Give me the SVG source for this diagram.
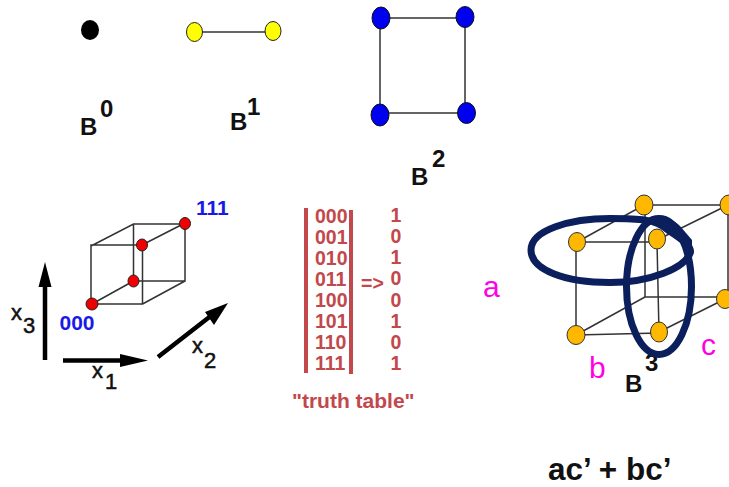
<svg xmlns="http://www.w3.org/2000/svg" width="729" height="487" viewBox="0 0 729 487">
<style>
text{font-family:"Liberation Sans",Arial,sans-serif}
.lb{font-weight:bold;font-size:24px;fill:#111}
.ax{font-size:22px;fill:#111;stroke:#111;stroke-width:.5px}
.ed{stroke:#333;stroke-width:1.5;fill:none}
.ax-line{stroke:#000;stroke-width:4.5;fill:none}
.yl{fill:#ffff00;stroke:#222;stroke-width:1}
.bl{fill:#0000f0;stroke:#111;stroke-width:1}
.rd{fill:#f00000;stroke:#222;stroke-width:1}
.or{fill:#ffb800;stroke:#333;stroke-width:1}
.blue{font-weight:bold;font-size:21px;fill:#1a1ae6}
.tt{font-weight:bold;font-size:19.5px;fill:#c2484c}
.bar{fill:#c2484c}
.mg{font-size:30px;fill:#ff00e6}
.ring{fill:none;stroke:#0a1f5c;stroke-width:7}
</style>
<g id="connectors">
<path class="ed" d="M194 32H273"/>
<path class="ed" d="M381 18H465V113H380V18"/>
<path class="ed" d="M92 304H142.500V245H91V304M91 246L133.500 224H185V281H133.500V224M92 304L133.500 281M142 245L185 223M142.500 304L185 281"/>
<path class="ed" d="M577 242H657L659 333L576 335V242M577 242L644 205H728V299M657 240L728 205M576 335L645 297V205M645 297H725M659 332L725 299"/>
<path class="ax-line" d="M45 360V280M63 360.500H128M158 357L212 315"/>
<path d="M45 262L51.500 287H38.500ZM148 360.500L120 354V367ZM228 303L205 312L214 325Z" fill="#000"/>
</g>
<g id="b0"><ellipse cx="90" cy="30" rx="9" ry="10" fill="#000"/><text class="lb" x="80" y="135">B</text><text class="lb" x="100" y="117">0</text></g>
<g id="b1"><ellipse class="yl" cx="194.500" cy="32" rx="8" ry="9.500"/><ellipse class="yl" cx="273" cy="31" rx="8" ry="9.500"/><text class="lb" x="230" y="130">B</text><text class="lb" x="247" y="115">1</text></g>
<g id="b2"><ellipse class="bl" cx="381" cy="18" rx="9" ry="11"/><ellipse class="bl" cx="465" cy="17" rx="9" ry="10.500"/><ellipse class="bl" cx="380" cy="115" rx="9" ry="11"/><ellipse class="bl" cx="466.500" cy="113" rx="9" ry="10.500"/><text class="lb" x="411" y="185">B</text><text class="lb" x="432" y="167">2</text></g>
<g id="cube"><ellipse class="rd" cx="92" cy="304" rx="6" ry="6"/><ellipse class="rd" cx="133.500" cy="281" rx="5.500" ry="6"/><ellipse class="rd" cx="142" cy="245" rx="5.500" ry="6"/><ellipse class="rd" cx="185" cy="223.500" rx="5.500" ry="6"/>
<text class="blue" x="196" y="215">111</text><text class="blue" x="59.500" y="330">000</text></g>
<g id="axes"><text class="ax" x="11" y="320">x</text><text class="ax" x="23" y="333">3</text><text class="ax" x="92" y="378">x</text><text class="ax" x="105" y="389">1</text><text class="ax" x="192" y="353">x</text><text class="ax" x="204" y="368">2</text></g>
<g id="truth-table">
<rect class="bar" x="304" y="208" width="4" height="165"/><rect class="bar" x="349" y="210" width="4" height="164"/>
<text class="tt" x="315" y="223">000</text><text class="tt" x="315" y="244">001</text><text class="tt" x="315" y="265">010</text><text class="tt" x="315" y="286">011</text><text class="tt" x="315" y="307">100</text><text class="tt" x="315" y="328">101</text><text class="tt" x="315" y="349">110</text><text class="tt" x="315" y="370">111</text>
<g text-anchor="middle"><text class="tt" x="396" y="222">1</text><text class="tt" x="396" y="243">0</text><text class="tt" x="396" y="264">1</text><text class="tt" x="396" y="285">0</text><text class="tt" x="396" y="307">0</text><text class="tt" x="396" y="328">1</text><text class="tt" x="396" y="349">0</text><text class="tt" x="396" y="370">1</text></g>
<text class="tt" x="361" y="290">=&gt;</text>
<text class="tt" x="292" y="408" style="font-size:21px">"truth table"</text>
</g>
<g id="b3">
<ellipse class="or" cx="644" cy="205" rx="9" ry="10"/><ellipse class="or" cx="729" cy="205" rx="9" ry="10"/><ellipse class="or" cx="577" cy="242" rx="8.500" ry="9.500"/><ellipse class="or" cx="657" cy="239" rx="8.500" ry="10"/><ellipse class="or" cx="576" cy="335" rx="9" ry="9.500"/><ellipse class="or" cx="659" cy="332" rx="8.500" ry="10"/><ellipse class="or" cx="725" cy="299" rx="8.500" ry="9.500"/>
<text class="lb" x="625" y="392">B</text><text class="lb" x="645" y="371">3</text>
</g>
<g id="rings">
<path class="ring" d="M531 250C531 230 570 218.500 610 218.500C640 218.500 655 219 668 230C680 238 691 245 690.500 252C686 268 650 282.500 610 282.500C565 282.500 531 270 531 250Z"/>
<ellipse class="ring" cx="659" cy="286.500" rx="32.500" ry="68"/>
<path d="M648 219C660 212 672 218 680 226L692 240V252L670 232Z" fill="#0a1f5c"/>
</g>
<g id="labels"><text class="mg" x="483" y="297">a</text><text class="mg" x="589" y="378">b</text><text class="mg" x="701" y="355">c</text>
<text x="548" y="480" font-weight="bold" font-size="31.500" fill="#111">ac’ + bc’</text></g>
</svg>
